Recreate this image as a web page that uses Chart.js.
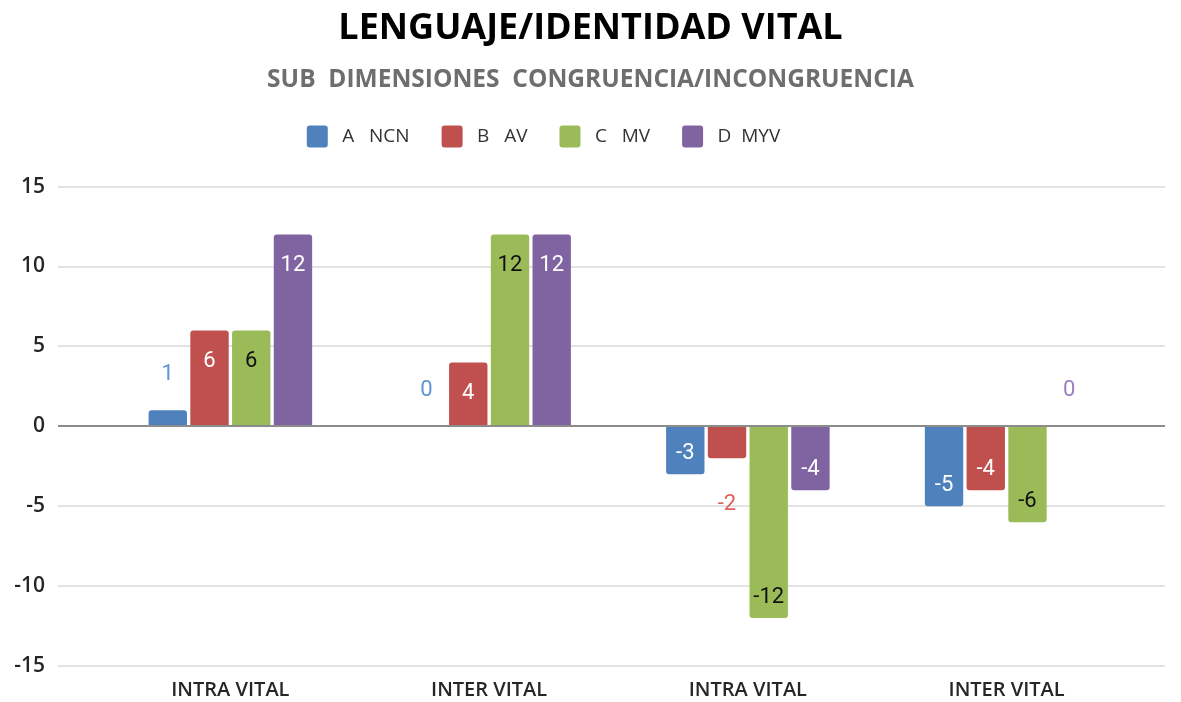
<!DOCTYPE html>
<html>
<head>
<meta charset="utf-8">
<script src="https://cdn.jsdelivr.net/npm/chart.js@4.4.1/dist/chart.umd.min.js"></script>
<style>
  html, body { margin: 0; padding: 0; background: #fff; }
  #wrap { width: 1181px; height: 702px; }
</style>
</head>
<body>
<div id="wrap"><canvas id="c"></canvas></div>
<script>
const categories = ["INTRA VITAL", "INTER VITAL", "INTRA VITAL", "INTER VITAL"];
const seriesNames = ["A   NCN", "B   AV", "C   MV", "D  MYV"];
const ncn = [1, 0, -3, -5];
const av = [6, 4, -2, -4];
const mv = [6, 12, -12, -6];
const myv = [12, 12, -4, 0];
const yTicks = [-15, -10, -5, 0, 5, 10, 15];

const fills = ["#4f81bd", "#c0504d", "#9bbb59", "#8064a2"];
const innerText = ["#ffffff", "#ffffff", "#111111", "#ffffff"];
const outerText = ["#5f94d6", "#e0605c", "#8fb04f", "#9a80c4"];

Chart.defaults.font.family = "'Open Sans', sans-serif";

// horizontal rules run a bit wider than the plot area
const gridLines = {
  id: "gridLines",
  beforeDatasetsDraw(chart) {
    const ctx = chart.ctx, y = chart.scales.y;
    ctx.save();
    ctx.strokeStyle = "#d9d9d9";
    ctx.lineWidth = 1.5;
    yTicks.forEach(v => {
      if (v === 0) return;
      const py = Math.round(y.getPixelForValue(v));
      ctx.beginPath();
      ctx.moveTo(58, py);
      ctx.lineTo(1165, py);
      ctx.stroke();
    });
    ctx.restore();
  },
  afterDatasetsDraw(chart) {
    const ctx = chart.ctx, y = chart.scales.y;
    const py = Math.round(y.getPixelForValue(0));
    ctx.save();
    ctx.strokeStyle = "#8c8c8c";
    ctx.lineWidth = 2;
    ctx.beginPath();
    ctx.moveTo(58, py);
    ctx.lineTo(1165, py);
    ctx.stroke();
    ctx.restore();
  }
};

// value labels: inside the bar end, or outside for short bars
const valueLabels = {
  id: "valueLabels",
  afterDraw(chart) {
    const ctx = chart.ctx;
    ctx.save();
    ctx.font = "22px Roboto";
    ctx.textAlign = "center";
    ctx.textBaseline = "middle";
    chart.data.datasets.forEach((ds, di) => {
      const meta = chart.getDatasetMeta(di);
      meta.data.forEach((bar, i) => {
        const v = ds.data[i];
        let ty, col;
        if (Math.abs(v) > 2) {
          ty = v > 0 ? bar.y + 31 : bar.y - 21;
          col = innerText[di];
        } else {
          ty = v >= 0 ? bar.y - 36 : bar.y + 46;
          col = outerText[di];
        }
        ctx.fillStyle = col;
        ctx.fillText(String(v), bar.x, ty);
      });
    });
    ctx.restore();
  }
};

// nudge the legend row up and to the left
const legendShift = {
  id: "legendShift",
  afterLayout(chart) {
    const lg = chart.legend;
    lg.left -= 47; lg.right -= 47;
    lg.top -= 29; lg.bottom -= 29;
  }
};

new Chart(document.getElementById("c"), {
  type: "bar",
  data: {
    labels: categories,
    datasets: [ncn, av, mv, myv].map((d, i) => ({
      label: seriesNames[i],
      data: d,
      backgroundColor: fills[i],
      borderRadius: 3,
      borderSkipped: "start",
      categoryPercentage: 0.645,
      barPercentage: 0.92
    }))
  },
  options: {
    responsive: true,
    maintainAspectRatio: false,
    animation: false,
    layout: { padding: 0 },
    plugins: {
      title: {
        display: true,
        text: "LENGUAJE/IDENTIDAD VITAL",
        color: "#000",
        font: { size: 36, weight: "bold" },
        padding: { top: 7, bottom: 6 }
      },
      subtitle: {
        display: true,
        text: "SUB  DIMENSIONES  CONGRUENCIA/INCONGRUENCIA",
        color: "#6e6e6e",
        font: { size: 24.5, weight: "bold" },
        padding: { top: 9, bottom: 28 }
      },
      legend: {
        display: true,
        position: "top",
        labels: {
          boxWidth: 21,
          boxHeight: 22,
          useBorderRadius: true,
          borderRadius: 3,
          padding: 32,
          color: "#333",
          font: { size: 19 },
          generateLabels(chart) {
            const items = Chart.defaults.plugins.legend.labels.generateLabels(chart);
            items.forEach(it => { it.text = " " + it.text; });
            return items;
          }
        }
      },
      tooltip: { enabled: false }
    },
    scales: {
      x: {
        grid: { display: false, drawTicks: false },
        border: { display: false },
        ticks: { color: "#262626", font: { size: 20, weight: "600" }, padding: 12 },
        afterFit(s) { s.height = 36; }
      },
      y: {
        min: -15,
        max: 15,
        afterBuildTicks(s) { s.ticks = yTicks.map(v => ({ value: v })); },
        grid: { display: false, drawTicks: false },
        border: { display: false },
        ticks: { color: "#262626", font: { size: 21, weight: "600" }, padding: 56 },
        afterFit(s) {
          s.width = 101;
          s.paddingTop = 12;
          s.paddingBottom = 12;
        }
      },
      // empty right-hand gutter
      gutter: {
        type: "linear",
        position: "right",
        grid: { display: false, drawTicks: false },
        border: { display: false },
        ticks: { display: false },
        afterFit(s) {
          s.width = 45;
          s.paddingTop = 0;
          s.paddingBottom = 0;
        }
      }
    }
  },
  plugins: [gridLines, valueLabels, legendShift]
});
</script>
</body>
</html>
